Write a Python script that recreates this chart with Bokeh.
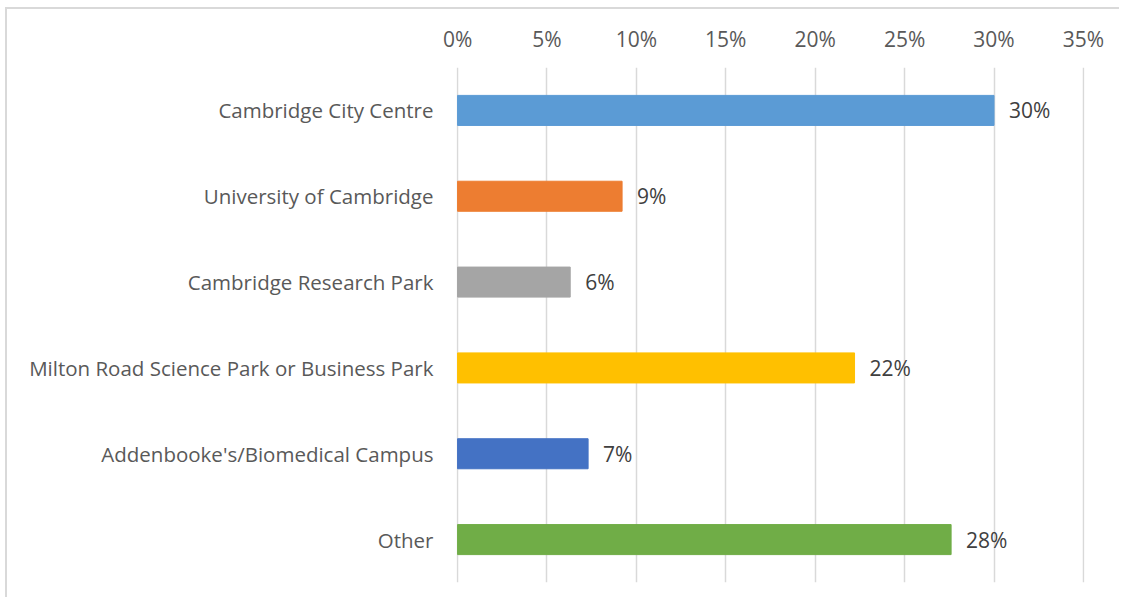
from bokeh.plotting import figure
from bokeh.models import ColumnDataSource, FixedTicker, NumeralTickFormatter, Range1d
from bokeh.core.properties import value
from bokeh.embed import file_html
from bokeh.resources import INLINE

categories = ["Cambridge City Centre", "University of Cambridge", "Cambridge Research Park",
              "Milton Road Science Park or Business Park", "Addenbooke's/Biomedical Campus", "Other"]
shares = [0.300, 0.092, 0.063, 0.222, 0.073, 0.276]
labels = ["30%", "9%", "6%", "22%", "7%", "28%"]
colors = ["#5B9BD5", "#ED7D31", "#A5A5A5", "#FFC000", "#4472C4", "#70AD47"]
ticks = [0, 0.05, 0.10, 0.15, 0.20, 0.25, 0.30, 0.35]

FONT = "Open Sans"

src = ColumnDataSource(dict(cat=categories, val=shares, lab=labels, col=colors))

p = figure(width=1119, height=597, y_range=list(reversed(categories)),
           x_range=Range1d(-0.0006, 0.3506), output_backend="svg", toolbar_location=None,
           x_axis_location="above", min_border_left=456, min_border_right=35,
           min_border_top=67, min_border_bottom=15)
p.styles = {
    "background": "linear-gradient(#d9d9d9,#d9d9d9) 5px 7px / 100% 2px no-repeat, "
                  "linear-gradient(#d9d9d9,#d9d9d9) 5px 7px / 2px 100% no-repeat, white"
}

p.hbar(y="cat", right="val", left=0, height=0.35, color="col", source=src)
p.text(x="val", y="cat", text="lab", source=src, x_offset=15, text_baseline="middle",
       text_align="left", text_font=value(FONT), text_font_size="21px", text_color="#404040")

p.xaxis.ticker = FixedTicker(ticks=ticks)
p.xaxis.formatter = NumeralTickFormatter(format="0%")
for ax in (p.xaxis[0], p.yaxis[0]):
    ax.axis_line_color = None
    ax.major_tick_line_color = None
    ax.minor_tick_line_color = None
    ax.major_label_text_font = FONT
    ax.major_label_text_color = "#595959"
p.xaxis.major_label_text_font_size = "21px"
p.yaxis.major_label_text_font_size = "20.5px"
p.xaxis.major_label_standoff = 9
p.yaxis.major_label_standoff = 17

p.xgrid.ticker = FixedTicker(ticks=ticks)
p.xgrid.grid_line_color = "#d9d9d9"
p.xgrid.grid_line_width = 1.5
p.ygrid.grid_line_color = None
p.outline_line_color = None
p.background_fill_color = "white"
p.border_fill_color = None

open("out.html", "w").write(file_html(p, INLINE))
